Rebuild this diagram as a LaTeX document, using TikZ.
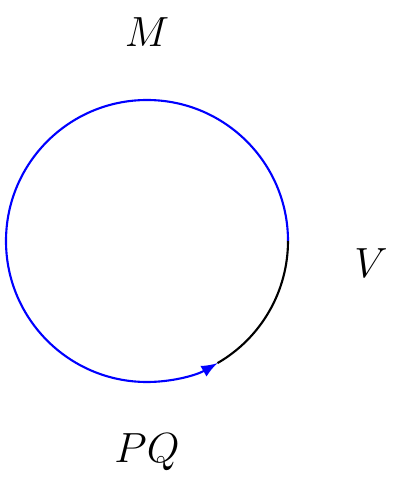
\documentclass[tikz,border=0pt]{standalone}
\usepackage{amsmath}
\usepackage{tikz}
\usetikzlibrary{arrows, positioning, calc}

\begin{document}
\begin{tikzpicture}[lbl/.style={font=\large}]
\useasboundingbox (-1.47,-2.44) rectangle (2.57,2.41);
% circle points
\coordinate (c) at (0,0);
\coordinate (east) at (1.41,0);
\coordinate (low) at (-60:1.41);

% blue part with arrow
\draw[blue, semithick, -latex] (east) arc (0:300:1.41);
% black part
\draw[semithick] (low) arc (-60:0:1.41);

\node[lbl] (m) at (0,2.09) {$M$};
\node[lbl] (v) at (2.24,-0.22) {$V$};
\node[lbl] (pq) at (0,-2.11) {$PQ$};
\end{tikzpicture}
\end{document}
